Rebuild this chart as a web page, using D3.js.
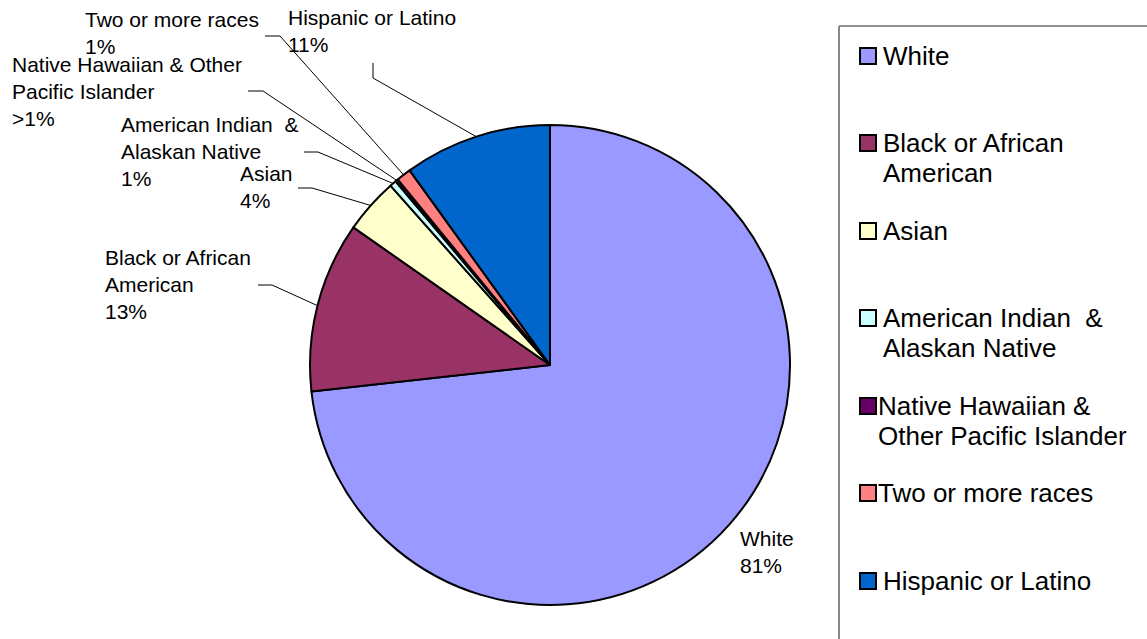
<html>
<head>
  <meta charset="utf8">
  <title>Pie - Race and ethnicity</title>
  <style>
  * {
    margin: 0;
    padding: 0;
  }
  body {
    background: #fff;
  }
  text {
    white-space: pre;
  }
  </style>
</head>
<body>
  <script src="https://cdn.jsdelivr.net/npm/d3@7"></script>
  <script>
  var w = 1147;
  var h = 639;

  // data
  var categories = ["White", "Black or African American", "Asian",
    "American Indian & Alaskan Native", "Native Hawaiian & Other Pacific Islander",
    "Two or more races", "Hispanic or Latino"];
  var values = [81, 12.7, 4.1, 0.5, 0.2, 1.1, 11.0];
  var pctLabels = ["81%", "13%", "4%", "1%", ">1%", "1%", "11%"];
  var labelLines = [
    ["White"],
    ["Black or African", "American"],
    ["Asian"],
    ["American Indian  &", "Alaskan Native"],
    ["Native Hawaiian & Other", "Pacific Islander"],
    ["Two or more races"],
    ["Hispanic or Latino"]
  ];
  var legendLines = [
    ["White"],
    ["Black or African", "American"],
    ["Asian"],
    ["American Indian  &", "Alaskan Native"],
    ["Native Hawaiian &", "Other Pacific Islander"],
    ["Two or more races"],
    ["Hispanic or Latino"]
  ];
  var colors = ["#9999FF", "#993366", "#FFFFCC", "#CCFFFF", "#660066", "#FF8080", "#0066CC"];

  // layout (label text anchor, leader line start)
  var labelPos = [[740, 546], [105, 265], [240, 181], [121, 132], [12, 72], [85, 27], [288, 25]];
  var leaderStart = [null, [[258, 285], [272, 285]], [[298, 188], [312, 188]],
    [[304, 152], [318, 152]], [[248, 91], [263, 91]], [[265, 36], [280, 36]],
    [[373, 63], [373, 78]]];
  var legendY = [65, 152, 240, 327, 415, 502, 590];
  var legendDx = [0, 0, 0, 0, -5, -5, 0];

  var cx = 550, cy = 365, r = 240;
  var font = "'Liberation Sans', Arial, sans-serif";

  var svg = d3.select("body")
    .append("svg")
    .attr("width", w)
    .attr("height", h);

  svg.append("rect").attr("width", w).attr("height", h).attr("fill", "#fff");

  var pie = d3.pie().sort(null).value(function(d) { return d; });
  var arcs = pie(values);
  var arc = d3.arc().innerRadius(0).outerRadius(r);
  var edge = d3.arc().innerRadius(r).outerRadius(r);

  var g = svg.append("g").attr("transform", "translate(" + cx + "," + cy + ")");
  g.selectAll("path")
    .data(arcs)
    .enter()
    .append("path")
    .attr("d", arc)
    .attr("fill", function(d, i) { return colors[i]; })
    .attr("stroke", "#000")
    .attr("stroke-width", 2)
    .attr("stroke-linejoin", "round");

  // leader lines
  arcs.forEach(function(d, i) {
    if (!leaderStart[i]) return;
    var c = edge.centroid(d);
    var pts = leaderStart[i].concat([[cx + c[0], cy + c[1]]]);
    svg.append("path")
      .attr("d", d3.line()(pts))
      .attr("fill", "none")
      .attr("stroke", "#000")
      .attr("stroke-width", 1);
  });

  // data labels
  labelLines.forEach(function(lines, i) {
    var t = svg.append("text")
      .attr("font-family", font)
      .attr("font-size", "21px")
      .attr("fill", "#000");
    lines.concat([pctLabels[i]]).forEach(function(s, j) {
      t.append("tspan")
        .attr("x", labelPos[i][0])
        .attr("y", labelPos[i][1] + j * 27)
        .text(s);
    });
  });

  // legend box
  svg.append("line").attr("x1", 839).attr("y1", 26).attr("x2", w).attr("y2", 26)
    .attr("stroke", "#222").attr("stroke-width", 1.2);
  svg.append("line").attr("x1", 839).attr("y1", 26).attr("x2", 839).attr("y2", h)
    .attr("stroke", "#888").attr("stroke-width", 2);

  var leg = svg.append("g");
  categories.forEach(function(c, i) {
    leg.append("rect")
      .attr("x", 860)
      .attr("y", legendY[i] - 17)
      .attr("width", 16)
      .attr("height", 16)
      .attr("fill", colors[i])
      .attr("stroke", "#000")
      .attr("stroke-width", 2);
    var t = leg.append("text")
      .attr("font-family", font)
      .attr("font-size", "26px")
      .attr("fill", "#000");
    legendLines[i].forEach(function(s, j) {
      t.append("tspan")
        .attr("x", 883 + legendDx[i])
        .attr("y", legendY[i] + j * 30)
        .text(s);
    });
  });
  </script>
</body>
</html>
